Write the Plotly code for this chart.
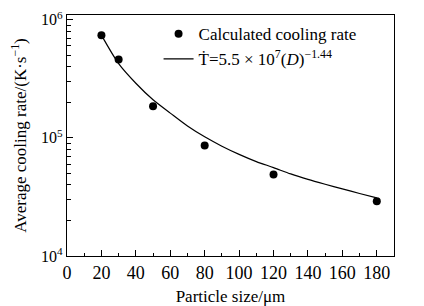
import plotly.graph_objects as go

# Calculated cooling rate (points)
particle_size = [20, 30, 50, 80, 120, 180]
cooling_rate = [7.4e5, 4.6e5, 1.85e5, 8.6e4, 4.9e4, 2.9e4]

# Fitted curve values
fit_size = [20, 30, 40, 50, 60, 70, 80, 90, 100, 110, 120, 130, 140, 150, 160, 170, 180]
fit_rate = [7.4e5, 4.25e5, 2.9e5, 2.1e5, 1.62e5, 1.26e5, 1.02e5, 8.5e4, 7.25e4, 6.3e4, 5.6e4, 4.95e4, 4.45e4, 4.05e4, 3.7e4, 3.38e4, 3.1e4]

x_ticks = [0, 20, 40, 60, 80, 100, 120, 140, 160, 180]
y_tickvals = [1e4, 1e5, 1e6]
y_ticktext = ["10<sup>4</sup>", "10<sup>5</sup>", "10<sup>6</sup>"]
y_minor = [m * 10 ** e for e in (4, 5) for m in range(2, 10)]

font = "Liberation Serif, Times New Roman, serif"

fig = go.Figure()
fig.add_trace(go.Scatter(
    x=particle_size, y=cooling_rate, mode="markers",
    marker=dict(color="black", size=8),
    name="Calculated cooling rate",
))
fig.add_trace(go.Scatter(
    x=fit_size, y=fit_rate, mode="lines", line_shape="spline",
    line=dict(color="black", width=1.2, smoothing=0.8),
    name="Ṫ=5.5 × 10<sup>7</sup>(<i>D</i>)<sup>−1.44</sup>",
))

# page body has an 8px default margin; size the figure so the plot area lands
# where the reference has it
fig.update_layout(
    width=416, height=298,
    margin=dict(l=59, r=30, t=7, b=50),
    paper_bgcolor="white", plot_bgcolor="white",
    font=dict(family=font, color="black", size=17),
    legend=dict(x=0.28, y=0.995, xanchor="left", yanchor="top",
                bgcolor="rgba(0,0,0,0)", font=dict(size=17),
                tracegroupgap=0, itemwidth=30),
    showlegend=True,
)
fig.update_xaxes(
    range=[0, 190], tickvals=x_ticks, ticks="inside", ticklen=6,
    tickcolor="black", showline=True, linecolor="black", linewidth=1.2,
    mirror=True, showgrid=False, zeroline=False, automargin=False,
    tickfont=dict(size=18),
    minor=dict(dtick=10, tick0=0, ticks="inside", ticklen=3, tickcolor="black", showgrid=False),
    title=dict(text="Particle size/μm", font=dict(size=17)),
)
fig.update_yaxes(
    type="log", range=[4, 6.04], tickvals=y_tickvals, ticktext=y_ticktext,
    ticks="inside", ticklen=6, tickcolor="black", showline=True,
    linecolor="black", linewidth=1.2, mirror=True, showgrid=False,
    zeroline=False, automargin=False, tickfont=dict(size=16),
    minor=dict(tickvals=y_minor, ticks="inside", ticklen=4, tickcolor="black", showgrid=False),
    title=dict(text="Average cooling rate/(K·s<sup>−1</sup>)", font=dict(size=17)),
)

fig.write_html("out.html")
